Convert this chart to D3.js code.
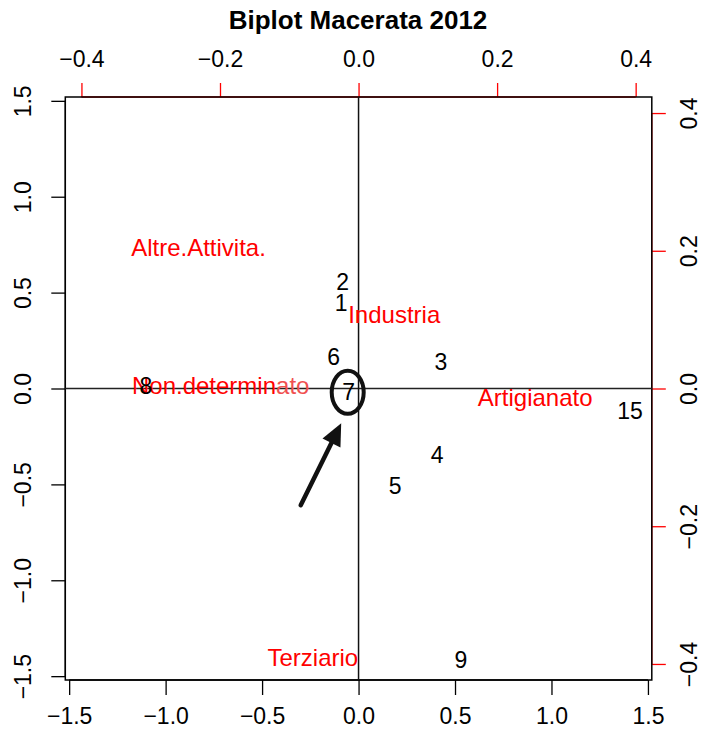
<!DOCTYPE html>
<html>
<head>
<meta charset="utf-8">
<script src="https://cdn.jsdelivr.net/npm/d3@7"></script>
<style>
  body { margin: 0; background: #fff; }
  svg text { font-family: "Liberation Sans", Arial, Helvetica, sans-serif; }
</style>
</head>
<body>
<div id="chart"></div>
<script>
// observations (scores) - primary axes
const obsLabels = ['2', '1', '6', '7', '3', '15', '4', '5', '9', '8'];
const obsX = [-0.082, -0.090, -0.129, -0.051, 0.427, 1.407, 0.408, 0.190, 0.530, -1.102];
const obsY = [0.557, 0.445, 0.166, -0.017, 0.140, -0.118, -0.345, -0.509, -1.414, 0.017];

// variables (loadings) - secondary axes
const varLabels = ['Altre.Attivita.', 'Industria', 'Non.determinato', 'Artigianato', 'Terziario'];
const varX = [-0.231, 0.0515, -0.199, 0.255, -0.066];
const varY = [0.205, 0.107, 0.005, -0.013, -0.391];

const primTicks = [-1.5, -1.0, -0.5, 0.0, 0.5, 1.0, 1.5];
const secTicks = [-0.4, -0.2, 0.0, 0.2, 0.4];

const width = 708,
    height = 743;
const box = { left: 65.3, right: 651.8, top: 97, bottom: 680 };
const fontSize = 23,
    varFontSize = 24;

const x = d3.scaleLinear().domain([-1.52, 1.52]).range([box.left, box.right]);
const y = d3.scaleLinear().domain([-1.52, 1.52]).range([box.bottom, box.top]);
const x2 = d3.scaleLinear().domain([-0.4233, 0.4233]).range([box.left, box.right]);
const y2 = d3.scaleLinear().domain([-0.4233, 0.4233]).range([box.bottom, box.top]);

const fmt = d3.format('.1f');

const svg = d3.select('#chart').append('svg')
    .attr('width', width)
    .attr('height', height);

svg.append('rect')
    .attr('width', width)
    .attr('height', height)
    .attr('fill', '#fff');

// title
svg.append('text')
    .attr('x', 358)
    .attr('y', 20)
    .attr('dy', '0.36em')
    .attr('text-anchor', 'middle')
    .attr('font-size', 26)
    .attr('font-weight', 'bold')
    .text('Biplot Macerata 2012');

// axes
function styleAxis(g, col) {
    g.selectAll('path').attr('stroke', col).attr('stroke-width', 1.3);
    g.selectAll('line').attr('stroke', col).attr('stroke-width', 1.3);
    g.selectAll('text').attr('fill', '#000').attr('font-size', fontSize)
        .attr('font-family', '"Liberation Sans", Arial, sans-serif');
}

const bottomAxis = svg.append('g')
    .attr('transform', 'translate(0,' + box.bottom + ')')
    .call(d3.axisBottom(x).tickValues(primTicks).tickFormat(fmt).tickSize(15).tickSizeOuter(0).tickPadding(13));
bottomAxis.select('path').attr('d', 'M' + x(-1.5) + ',0H' + x(1.5));
styleAxis(bottomAxis, '#000');

const leftAxis = svg.append('g')
    .attr('transform', 'translate(' + box.left + ',0)')
    .call(d3.axisLeft(y).tickValues(primTicks).tickFormat(fmt).tickSize(14).tickSizeOuter(0));
leftAxis.select('path').attr('d', 'M0,' + y(1.5) + 'V' + y(-1.5));
styleAxis(leftAxis, '#000');
leftAxis.selectAll('text')
    .attr('x', null).attr('dy', null)
    .attr('text-anchor', 'middle')
    .attr('transform', 'translate(-43,0) rotate(-90)')
    .attr('y', 0)
    .attr('dy', '0.36em');

const topAxis = svg.append('g')
    .attr('transform', 'translate(0,' + box.top + ')')
    .call(d3.axisTop(x2).tickValues(secTicks).tickFormat(fmt).tickSize(14).tickSizeOuter(0).tickPadding(16));
topAxis.select('path').attr('d', 'M' + x2(-0.4) + ',0H' + x2(0.4));
styleAxis(topAxis, '#ff0000');

const rightAxis = svg.append('g')
    .attr('transform', 'translate(' + box.right + ',0)')
    .call(d3.axisRight(y2).tickValues(secTicks).tickFormat(fmt).tickSize(14).tickSizeOuter(0));
rightAxis.select('path').attr('d', 'M0,' + y2(0.4) + 'V' + y2(-0.4));
styleAxis(rightAxis, '#ff0000');
rightAxis.selectAll('text')
    .attr('x', null).attr('dy', null)
    .attr('text-anchor', 'middle')
    .attr('transform', 'translate(37,0) rotate(-90)')
    .attr('y', 0)
    .attr('dy', '0.36em');

// box
svg.append('rect')
    .attr('x', box.left)
    .attr('y', box.top)
    .attr('width', box.right - box.left)
    .attr('height', box.bottom - box.top)
    .attr('fill', 'none')
    .attr('stroke', '#000')
    .attr('stroke-width', 1.5);

// abline h=0, v=0
svg.append('line')
    .attr('x1', box.left).attr('x2', box.right)
    .attr('y1', y(0)).attr('y2', y(0))
    .attr('stroke', '#222').attr('stroke-width', 1.5);
svg.append('line')
    .attr('x1', x(0)).attr('x2', x(0))
    .attr('y1', box.top).attr('y2', box.bottom)
    .attr('stroke', '#111').attr('stroke-width', 1.5);

// variable labels (red)
const varG = svg.append('g');
varLabels.forEach(function(lab, i) {
    const t = varG.append('text')
        .attr('x', x2(varX[i]))
        .attr('y', y2(varY[i]))
        .attr('dy', '0.36em')
        .attr('text-anchor', 'middle')
        .attr('font-size', varFontSize)
        .attr('fill', '#ff0000');
    if (lab == 'Non.determinato') {
        // the tail of this label sits under the pasted, slightly faded patch
        t.append('tspan').text('Non.determin');
        t.append('tspan').attr('fill', '#f05050').text('ato');
    } else {
        t.text(lab);
    }
});

// observation labels (black)
svg.append('g').selectAll('text')
    .data(obsLabels)
    .enter()
    .append('text')
    .attr('x', (d, i) => x(obsX[i]))
    .attr('y', (d, i) => y(obsY[i]))
    .attr('dy', '0.36em')
    .attr('text-anchor', 'middle')
    .attr('font-size', fontSize)
    .attr('fill', '#000')
    .text(d => d);

// hand-drawn annotation around point 7
const i7 = obsLabels.indexOf('7');
const cx = x(obsX[i7]) - 1,
    cy = y(obsY[i7]) + 0.5;

svg.append('ellipse')
    .attr('cx', cx)
    .attr('cy', cy)
    .attr('rx', 16)
    .attr('ry', 21.5)
    .attr('fill', 'none')
    .attr('stroke', '#111')
    .attr('stroke-width', 4);

const tail = [cx - 47, cy + 113],
    tip = [cx - 6.5, cy + 31];
const dx = tip[0] - tail[0],
    dy = tip[1] - tail[1],
    len = Math.sqrt(dx * dx + dy * dy),
    ux = dx / len,
    uy = dy / len;
const headLen = 22,
    headW = 10;
const base = [tip[0] - ux * headLen, tip[1] - uy * headLen];

svg.append('line')
    .attr('x1', tail[0]).attr('y1', tail[1])
    .attr('x2', base[0] + ux * 3).attr('y2', base[1] + uy * 3)
    .attr('stroke', '#111')
    .attr('stroke-width', 4.5)
    .attr('stroke-linecap', 'round');

svg.append('path')
    .attr('d', 'M' + tip[0] + ',' + tip[1] +
        'L' + (base[0] - uy * headW) + ',' + (base[1] + ux * headW) +
        'L' + (base[0] + uy * headW) + ',' + (base[1] - ux * headW) + 'Z')
    .attr('fill', '#111');
</script>
</body>
</html>
